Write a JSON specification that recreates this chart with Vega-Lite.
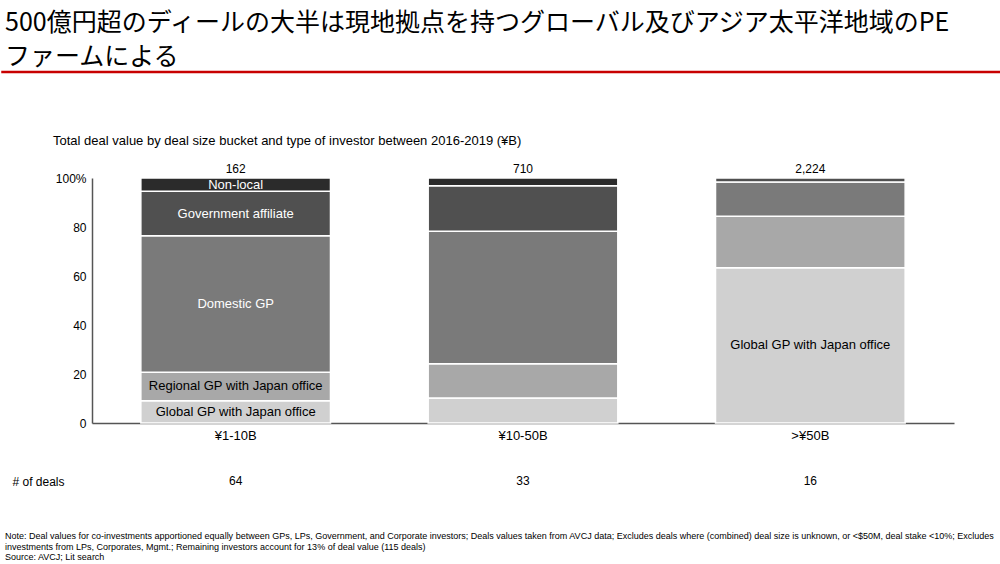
{
  "$schema": "https://vega.github.io/schema/vega-lite/v6.json",
  "padding": {"left": 0, "top": 10, "right": 0, "bottom": 0},
  "background": "white",
  "spacing": 10,
  "config": {
    "font": "Liberation Sans",
    "view": {"stroke": null},
    "axis": {"labelFont": "Liberation Sans", "labelColor": "#000000", "labelFontSize": 12}
  },
  "title": {
    "text": [
      "Note: Deal values for co-investments apportioned equally between GPs, LPs, Government, and Corporate investors;  Deals values taken from AVCJ data; Excludes deals where (combined) deal size is unknown, or <$50M, deal stake <10%; Excludes",
      "investments from LPs, Corporates, Mgmt.; Remaining investors account for 13% of deal value (115 deals)",
      "Source:  AVCJ;  Lit search"
    ],
    "orient": "bottom",
    "anchor": "start",
    "frame": "bounds",
    "font": "Liberation Sans Narrow, Arial Narrow, Liberation Sans",
    "fontSize": 9,
    "fontWeight": "normal",
    "color": "#000000",
    "lineHeight": 10.5,
    "dx": 5,
    "offset": 22
  },
  "resolve": {"scale": {"x": "independent", "y": "independent"}},
  "datasets": {
    "segments": [
      {"bucket": "¥1-10B", "segment": "Global GP with Japan office", "rank": 1, "value": 9.1, "label": "Global GP with Japan office"},
      {"bucket": "¥1-10B", "segment": "Regional GP with Japan office", "rank": 2, "value": 11.6, "label": "Regional GP with Japan office"},
      {"bucket": "¥1-10B", "segment": "Domestic GP", "rank": 3, "value": 55.7, "label": "Domestic GP"},
      {"bucket": "¥1-10B", "segment": "Government affiliate", "rank": 4, "value": 18.2, "label": "Government affiliate"},
      {"bucket": "¥1-10B", "segment": "Non-local", "rank": 5, "value": 5.4, "label": "Non-local"},
      {"bucket": "¥10-50B", "segment": "Global GP with Japan office", "rank": 1, "value": 10.2, "label": ""},
      {"bucket": "¥10-50B", "segment": "Regional GP with Japan office", "rank": 2, "value": 14.0, "label": ""},
      {"bucket": "¥10-50B", "segment": "Domestic GP", "rank": 3, "value": 54.1, "label": ""},
      {"bucket": "¥10-50B", "segment": "Government affiliate", "rank": 4, "value": 18.5, "label": ""},
      {"bucket": "¥10-50B", "segment": "Non-local", "rank": 5, "value": 3.2, "label": ""},
      {"bucket": ">¥50B", "segment": "Global GP with Japan office", "rank": 1, "value": 63.4, "label": "Global GP with Japan office"},
      {"bucket": ">¥50B", "segment": "Regional GP with Japan office", "rank": 2, "value": 21.0, "label": ""},
      {"bucket": ">¥50B", "segment": "Domestic GP", "rank": 3, "value": 14.0, "label": ""},
      {"bucket": ">¥50B", "segment": "Government affiliate", "rank": 4, "value": 1.6, "label": ""}
    ],
    "buckets": [
      {"bucket": "¥1-10B", "total": "162", "deals": "64", "row": "# of deals"},
      {"bucket": "¥10-50B", "total": "710", "deals": "33", "row": "# of deals"},
      {"bucket": ">¥50B", "total": "2,224", "deals": "16", "row": "# of deals"}
    ],
    "redline": [{"start": 0, "end": 1, "v": 1}]
  },
  "vconcat": [
    {
      "width": 862,
      "height": 52,
      "title": {
        "text": ["500億円超のディールの大半は現地拠点を持つグローバル及びアジア太平洋地域のPE", "ファームによる"],
        "anchor": "start",
        "frame": "group",
        "dx": -87,
        "font": "Noto Sans CJK JP",
        "fontSize": 25,
        "fontWeight": "normal",
        "color": "#000000",
        "lineHeight": 34,
        "offset": 1
      },
      "data": {"name": "redline"},
      "mark": {"type": "rule", "color": "#c80000", "strokeWidth": 2.5},
      "encoding": {
        "x": {"field": "start", "type": "quantitative", "scale": {"domain": [0, 1], "range": [-90.75, 910]}, "axis": null},
        "x2": {"field": "end"},
        "y": {"field": "v", "type": "quantitative", "scale": {"domain": [0, 1]}, "axis": null}
      }
    },
    {
      "width": 862,
      "height": 245,
      "title": {
        "text": "Total deal value by deal size bucket and type of investor between 2016-2019 (¥B)",
        "anchor": "start",
        "frame": "group",
        "dx": -39,
        "font": "Liberation Sans",
        "fontSize": 13,
        "fontWeight": "normal",
        "color": "#000000",
        "offset": 15.5
      },
      "encoding": {
        "x": {
          "field": "bucket",
          "type": "nominal",
          "sort": ["¥1-10B", "¥10-50B", ">¥50B"],
          "scale": {"paddingInner": 0.34, "paddingOuter": 0.17},
          "axis": {"title": null, "labelAngle": 0, "ticks": false, "tickSize": 0, "domainColor": "#555555", "domainWidth": 1.5, "labelPadding": 6, "labelFontSize": 13}
        }
      },
      "layer": [
        {
          "data": {"name": "segments"},
          "transform": [
            {"stack": "value", "groupby": ["bucket"], "sort": [{"field": "rank", "order": "ascending"}], "as": ["y0", "y1"]}
          ],
          "mark": {"type": "bar", "stroke": "#ffffff", "strokeWidth": 1.5},
          "encoding": {
            "y": {
              "field": "y0",
              "type": "quantitative",
              "scale": {"domain": [0, 100]},
              "axis": {
                "title": null,
                "values": [0, 20, 40, 60, 80, 100],
                "labelExpr": "datum.value == 100 ? '100%' : datum.label",
                "grid": false,
                "ticks": false,
                "tickSize": 0,
                "domainColor": "#555555",
                "domainWidth": 1.5,
                "labelPadding": 6,
                "labelFlush": false,
                "minExtent": 92,
                "maxExtent": 92
              }
            },
            "y2": {"field": "y1"},
            "color": {
              "field": "segment",
              "type": "nominal",
              "scale": {
                "domain": ["Global GP with Japan office", "Regional GP with Japan office", "Domestic GP", "Government affiliate", "Non-local"],
                "range": ["#d0d0d0", "#a8a8a8", "#7a7a7a", "#505050", "#2b2b2b"]
              },
              "legend": null
            }
          }
        },
        {
          "data": {"name": "segments"},
          "transform": [
            {"stack": "value", "groupby": ["bucket"], "sort": [{"field": "rank", "order": "ascending"}], "as": ["y0", "y1"]},
            {"calculate": "(datum.y0 + datum.y1) / 2", "as": "mid"}
          ],
          "mark": {"type": "text", "fontSize": 13, "baseline": "middle"},
          "encoding": {
            "y": {"field": "mid", "type": "quantitative"},
            "text": {"field": "label"},
            "color": {
              "condition": {"test": "datum.rank <= 2", "value": "#000000"},
              "value": "#ffffff"
            }
          }
        },
        {
          "data": {"name": "buckets"},
          "mark": {"type": "text", "fontSize": 12, "baseline": "alphabetic", "dy": -5, "color": "#000000"},
          "encoding": {
            "y": {"datum": 100},
            "text": {"field": "total"}
          }
        }
      ]
    },
    {
      "width": 862,
      "height": 58,
      "data": {"name": "buckets"},
      "mark": {"type": "text", "fontSize": 12, "color": "#000000"},
      "encoding": {
        "x": {
          "field": "bucket",
          "type": "nominal",
          "sort": ["¥1-10B", "¥10-50B", ">¥50B"],
          "scale": {"paddingInner": 0.34, "paddingOuter": 0.17},
          "axis": null
        },
        "y": {
          "field": "row",
          "type": "nominal",
          "axis": {"title": null, "domain": false, "ticks": false, "tickSize": 0, "labelAlign": "left", "labelPadding": 80, "minExtent": 92, "maxExtent": 92}
        },
        "text": {"field": "deals"}
      }
    }
  ]
}
